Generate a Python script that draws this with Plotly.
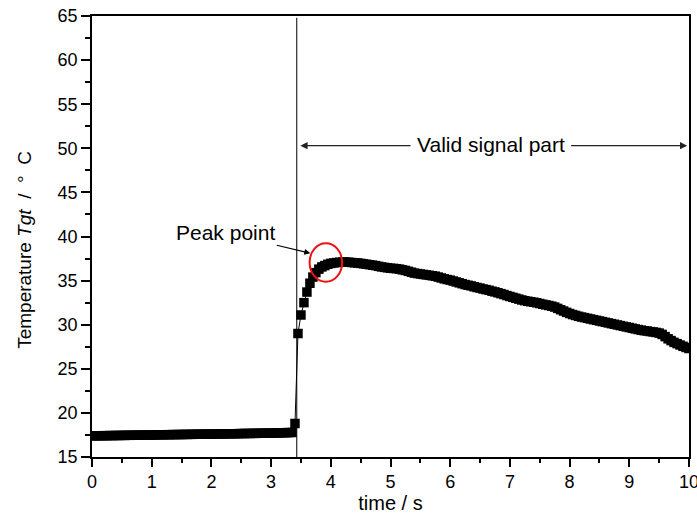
import plotly.graph_objects as go

# ---------------- data ----------------
temperature = [
    17.40, 17.40, 17.41, 17.41, 17.42, 17.42, 17.43, 17.43, 17.44, 17.44,
    17.45, 17.45, 17.46, 17.46, 17.47, 17.47, 17.48, 17.48, 17.49, 17.49,
    17.50, 17.50, 17.51, 17.52, 17.52, 17.53, 17.53, 17.54, 17.54, 17.55,
    17.55, 17.56, 17.56, 17.57, 17.57, 17.58, 17.58, 17.59, 17.59, 17.60,
    17.60, 17.61, 17.61, 17.62, 17.62, 17.63, 17.63, 17.64, 17.64, 17.65,
    17.66, 17.66, 17.67, 17.67, 17.68, 17.68, 17.69, 17.70, 17.70, 17.71,
    17.71, 17.72, 17.73, 17.74, 17.75, 17.76, 17.77, 17.78,
    18.80, 29.00, 31.10, 32.50, 33.70, 34.70, 35.40, 35.90, 36.30, 36.55,
    36.70, 36.85, 36.95, 37.00, 37.05, 37.08, 37.10, 37.10, 37.08, 37.05,
    37.02, 37.00, 36.95, 36.90, 36.85, 36.80, 36.75, 36.70, 36.62, 36.55,
    36.50, 36.45, 36.40, 36.38, 36.35, 36.30, 36.22, 36.15, 36.05, 35.95,
    35.85, 35.80, 35.75, 35.70, 35.65, 35.60, 35.55, 35.50, 35.40, 35.30,
    35.20, 35.12, 35.05, 34.95, 34.85, 34.75, 34.65, 34.55, 34.47, 34.40,
    34.30, 34.22, 34.15, 34.05, 33.98, 33.90, 33.80, 33.72, 33.62, 33.52,
    33.42, 33.30, 33.20, 33.10, 33.00, 32.90, 32.80, 32.72, 32.66, 32.60,
    32.55, 32.48, 32.40, 32.32, 32.25, 32.18, 32.10, 32.00, 31.85, 31.70,
    31.55, 31.40, 31.27, 31.15, 31.05, 30.95, 30.87, 30.80, 30.72, 30.65,
    30.57, 30.50, 30.42, 30.35, 30.27, 30.20, 30.12, 30.05, 29.97, 29.90,
    29.82, 29.75, 29.68, 29.60, 29.52, 29.45, 29.38, 29.32, 29.28, 29.22,
    29.18, 29.12, 29.05, 28.90, 28.65, 28.40, 28.20, 28.00, 27.85, 27.70,
    27.55, 27.42, 27.30,
]
sample_step = 0.05
time = [round(i * sample_step, 2) for i in range(len(temperature))]

x_ticks = [0, 1, 2, 3, 4, 5, 6, 7, 8, 9, 10]
y_ticks = [15, 20, 25, 30, 35, 40, 45, 50, 55, 60, 65]

cut_time = 3.43          # start of valid signal
valid_arrow_y = 50.3
valid_label_x = 6.68
valid_left_tail, valid_left_tip = 5.36, 3.49
valid_right_tail, valid_right_tip = 8.00, 9.97
peak_circle = dict(x0=3.645, x1=4.19, y0=34.88, y1=39.23)
peak_arrow_tip = (3.657, 38.1)
peak_arrow_tail = (3.07, 39.05)
peak_label = (2.24, 40.4)

FONT = "Arial, Liberation Sans, sans-serif"

fig = go.Figure()
fig.add_trace(go.Scatter(
    x=time, y=temperature, mode="lines+markers",
    line=dict(color="black", width=1),
    marker=dict(symbol="square", size=9.5, color="black", line=dict(width=0)),
    showlegend=False, cliponaxis=True,
))

fig.add_shape(type="line", xref="x", yref="y", x0=cut_time, x1=cut_time,
              y0=15, y1=64.8, line=dict(color="black", width=1), layer="below")
fig.add_shape(type="circle", xref="x", yref="y", **peak_circle,
              line=dict(color="#ee1111", width=2))

# Valid signal part arrows + label
fig.add_annotation(x=valid_left_tip, y=valid_arrow_y, ax=valid_left_tail, ay=valid_arrow_y,
                   xref="x", yref="y", axref="x", ayref="y", text="", showarrow=True,
                   arrowhead=2, arrowsize=1.2, arrowwidth=1.2, arrowcolor="#222")
fig.add_annotation(x=valid_right_tip, y=valid_arrow_y, ax=valid_right_tail, ay=valid_arrow_y,
                   xref="x", yref="y", axref="x", ayref="y", text="", showarrow=True,
                   arrowhead=2, arrowsize=1.2, arrowwidth=1.2, arrowcolor="#222")
fig.add_annotation(x=valid_label_x, y=valid_arrow_y, xref="x", yref="y",
                   text="Valid signal part", showarrow=False,
                   font=dict(family=FONT, size=21, color="black"), yshift=1)

# Peak point
fig.add_annotation(x=peak_arrow_tip[0], y=peak_arrow_tip[1],
                   ax=peak_arrow_tail[0], ay=peak_arrow_tail[1],
                   xref="x", yref="y", axref="x", ayref="y", text="", showarrow=True,
                   arrowhead=2, arrowsize=1.1, arrowwidth=1.1, arrowcolor="black")
fig.add_annotation(x=peak_label[0], y=peak_label[1], xref="x", yref="y",
                   text="Peak point", showarrow=False,
                   font=dict(family=FONT, size=21, color="black"))

# Y title
fig.add_annotation(x=-0.133, y=0.47, xref="paper", yref="paper",
                   text="Temperature <i>Tgt</i>\u00a0\u00a0/\u00a0\u00a0\u00b0\u00a0\u00a0C",
                   textangle=-90, showarrow=False,
                   font=dict(family=FONT, size=19, color="black"))

axis_common = dict(
    showline=True, linecolor="black", linewidth=1.5, mirror=True,
    ticks="outside", tickcolor="black", tickwidth=1.5,
    showgrid=False, zeroline=False, automargin=False,
    ticklabeloverflow="allow",
    tickfont=dict(family=FONT, size=18, color="black"),
)
fig.update_xaxes(range=[0, 10], tickvals=x_ticks, ticklen=8,
                 minor=dict(dtick=0.5, ticks="outside", ticklen=4, tickcolor="black", tickwidth=1.5),
                 title=dict(text="time / s", font=dict(family=FONT, size=20, color="black"), standoff=4),
                 **axis_common)
fig.update_yaxes(range=[15, 65], tickvals=y_ticks, ticklen=9,
                 minor=dict(dtick=2.5, ticks="outside", ticklen=5, tickcolor="black", tickwidth=1.5),
                 **axis_common)

fig.update_layout(
    width=697, height=523,
    margin=dict(l=92, r=8, t=16, b=66),
    plot_bgcolor="white", paper_bgcolor="white",
    font=dict(family=FONT, color="black"),
)

fig.write_html("out.html")
